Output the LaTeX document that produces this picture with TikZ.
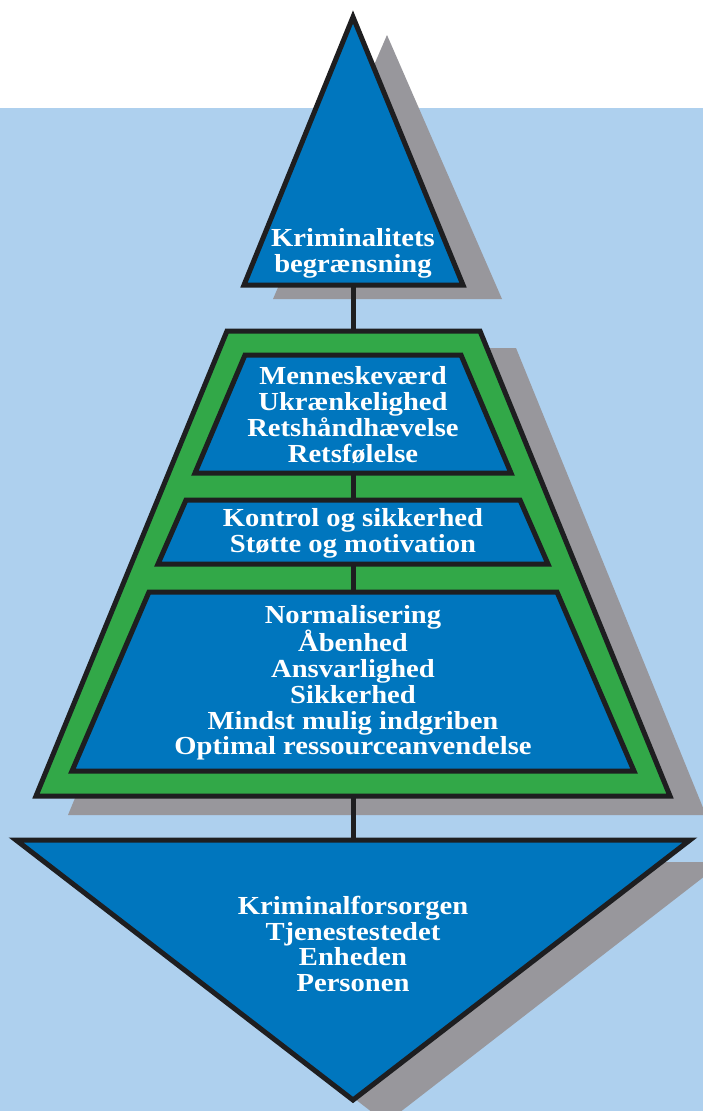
\documentclass[tikz,border=0pt]{standalone}
\usepackage{fontspec}
\setmainfont{Liberation Serif}[FakeStretch=1.1]
\usetikzlibrary{positioning}
\definecolor{skyblue}{RGB}{174,208,238}
\definecolor{boxblue}{RGB}{0,118,190}
\definecolor{rimgreen}{RGB}{50,168,72}
\definecolor{shadowgray}{RGB}{152,151,156}
\definecolor{outline}{RGB}{30,30,32}
\begin{document}
\begin{tikzpicture}[x=1pt, y=-1pt, line join=miter,
                    frame/.style={draw=outline, line width=5pt},
                    blue box/.style={frame, fill=boxblue},
                    shade box/.style={fill=shadowgray},
                    link/.style={draw=outline, line width=5pt},
                    txt/.style={text=white, align=center, inner sep=0pt,
                                font=\bfseries\fontsize{26}{25.7}\selectfont}]
    \useasboundingbox (0,0) rectangle (703,1111);
    \clip (0,0) rectangle (703,1111);
    \fill[skyblue] (0,108) rectangle (703,1111);

    % shadows
    \fill[shade box] (387,35) -- (502,299) -- (273,299) -- cycle;
    \fill[shade box] (261,348) -- (516,348) -- (706,815) -- (68,815) -- cycle;
    \fill[shade box] (49,862) -- (723,862) -- (386,1123) -- cycle;

    % corner points for the connectors
    \coordinate (top-b)   at (353,285);
    \coordinate (rim-t)   at (353,331);
    \coordinate (rim-b)   at (353,796);
    \coordinate (base-t)  at (353,840);
    \coordinate (vals-b)  at (353,473);
    \coordinate (ctrl-t)  at (353,500);
    \coordinate (ctrl-b)  at (353,564);
    \coordinate (norm-t)  at (353,592);

    \path[link] (top-b) -- (rim-t)
                (rim-b) -- (base-t);

    % green frame and the three inner boxes
    \draw[frame, fill=rimgreen] (227,331) -- (480,331) -- (670,796) -- (36,796) -- cycle;
    \path[link] (vals-b) -- (ctrl-t)
                (ctrl-b) -- (norm-t);
    \draw[blue box] (245,355) -- (461,355) -- (511,473) -- (195,473) -- cycle;
    \draw[blue box] (186,500) -- (520,500) -- (548,564) -- (158,564) -- cycle;
    \draw[blue box] (149,592) -- (557,592) -- (634,771) -- (72,771) -- cycle;

    % top and bottom triangles
    \draw[blue box] (353,17) -- (463,285) -- (244,285) -- cycle;
    \draw[blue box] (16,840) -- (690,840) -- (353,1100) -- cycle;

    \node[txt] (limit) at (353,253) {Kriminalitets\\begrænsning};
    \node[txt] (vals)  at (353,415) {Menneskeværd\\Ukrænkelighed\\Retshåndhævelse\\Retsfølelse};
    \node[txt] (ctrl)  at (353,533) {Kontrol og sikkerhed\\Støtte og motivation};
    \node[txt] (norm)  at (353,683) {Normalisering\\Åbenhed\\Ansvarlighed\\Sikkerhed\\Mindst mulig indgriben\\Optimal ressourceanvendelse};
    \node[txt] (units) at (353,944) {Kriminalforsorgen\\Tjenestestedet\\Enheden\\Personen};
\end{tikzpicture}
\end{document}
